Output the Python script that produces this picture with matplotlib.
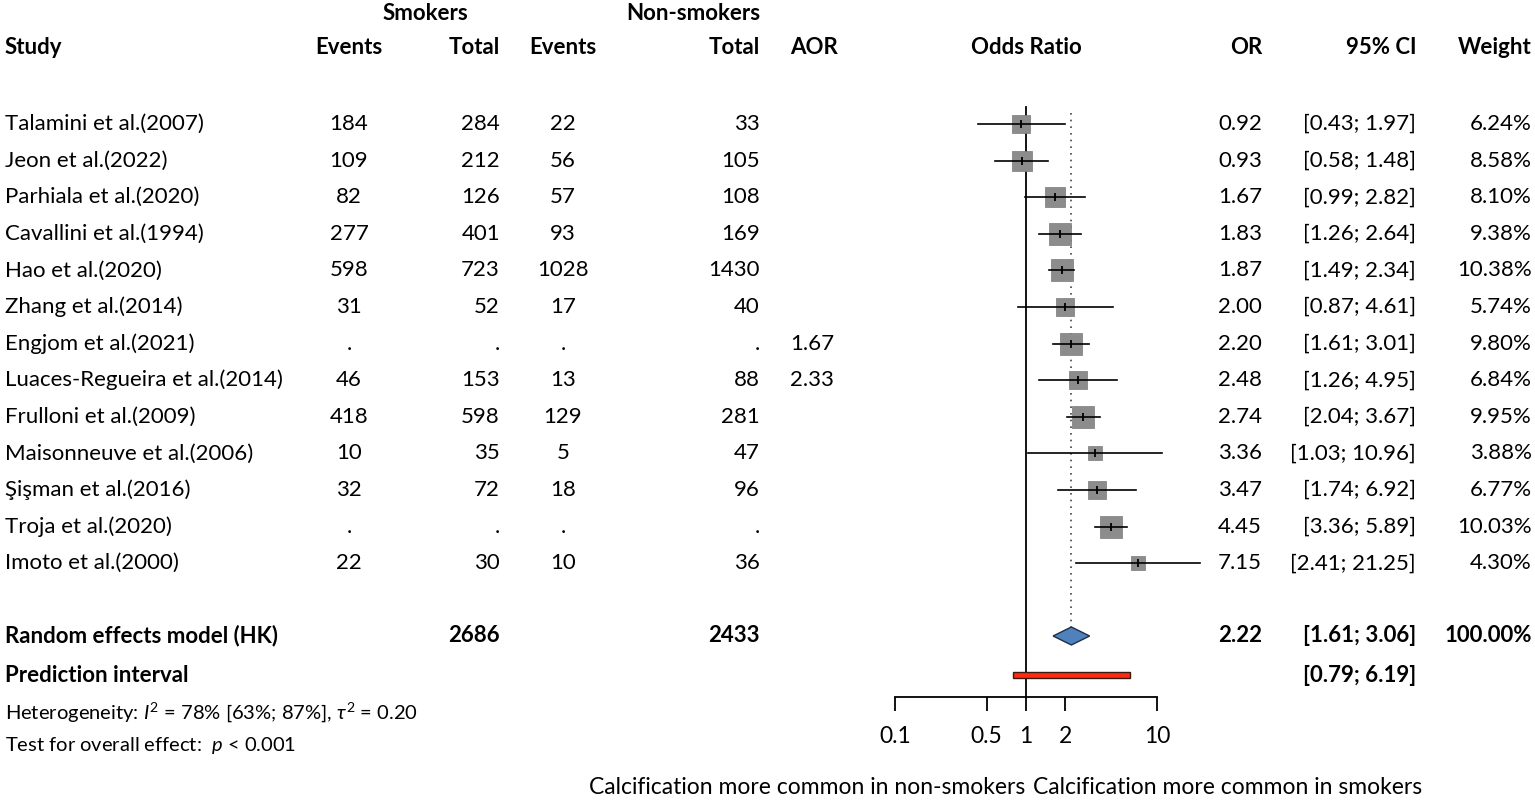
import numpy as np
import matplotlib
matplotlib.use("Agg")
import matplotlib.pyplot as plt
from matplotlib.patches import Polygon, Rectangle

plt.rcParams['font.family'] = ['Lato', 'DejaVu Sans']
plt.rcParams['mathtext.fontset'] = 'custom'
plt.rcParams['mathtext.rm'] = 'Lato'
plt.rcParams['mathtext.it'] = 'Lato:italic'

# data
studies = ["Talamini et al.(2007)", "Jeon et al.(2022)", "Parhiala et al.(2020)",
           "Cavallini et al.(1994)", "Hao et al.(2020)", "Zhang et al.(2014)",
           "Engjom et al.(2021)", "Luaces-Regueira et al.(2014)", "Frulloni et al.(2009)",
           "Maisonneuve et al.(2006)", "Şişman et al.(2016)", "Troja et al.(2020)",
           "Imoto et al.(2000)"]
smk_events = [184, 109, 82, 277, 598, 31, None, 46, 418, 10, 32, None, 22]
smk_total = [284, 212, 126, 401, 723, 52, None, 153, 598, 35, 72, None, 30]
non_events = [22, 56, 57, 93, 1028, 17, None, 13, 129, 5, 18, None, 10]
non_total = [33, 105, 108, 169, 1430, 40, None, 88, 281, 47, 96, None, 36]
aor = [None, None, None, None, None, None, "1.67", "2.33", None, None, None, None, None]
odds = [0.92, 0.93, 1.67, 1.83, 1.87, 2.00, 2.20, 2.48, 2.74, 3.36, 3.47, 4.45, 7.15]
ci_lo = [0.43, 0.58, 0.99, 1.26, 1.49, 0.87, 1.61, 1.26, 2.04, 1.03, 1.74, 3.36, 2.41]
ci_hi = [1.97, 1.48, 2.82, 2.64, 2.34, 4.61, 3.01, 4.95, 3.67, 10.96, 6.92, 5.89, 21.25]
weight = [6.24, 8.58, 8.10, 9.38, 10.38, 5.74, 9.80, 6.84, 9.95, 3.88, 6.77, 10.03, 4.30]

pooled = (2.22, 1.61, 3.06)
pred = (0.79, 6.19)
tot_smk, tot_non = 2686, 2433
ticks = [0.1, 0.5, 1, 2, 10]

W, H = 1535, 801
fig = plt.figure(figsize=(W / 100, H / 100), dpi=100)

# text layer in pixel coordinates
bg = fig.add_axes([0, 0, 1, 1])
bg.set_xlim(0, W)
bg.set_ylim(H, 0)
bg.axis('off')

# forest axes
x0, x1 = 895, 1157
ax = fig.add_axes([x0 / W, 0, (x1 - x0) / W, 1])
ax.set_xscale('log')
ax.set_xlim(0.1, 10)
ax.set_ylim(H, 0)
ax.patch.set_alpha(0)
for s in ['top', 'left', 'right']:
    ax.spines[s].set_visible(False)
ax.spines['bottom'].set_position(('data', 697))
ax.spines['bottom'].set_linewidth(1.3)
ax.set_yticks([])
ax.set_xticks(ticks)
ax.set_xticklabels(["0.1", "0.5", "1", "2", "10"])
ax.minorticks_off()
ax.tick_params(axis='x', direction='out', length=10, width=1.3, pad=11, labelsize=16.5)

fs = 16
row0, step = 124, 36.6
ys = [row0 + step * i for i in range(len(studies))]

# headers
bg.text(425, 14, "Smokers", ha='center', va='center', fontsize=fs, fontweight='bold')
bg.text(760, 14, "Non-smokers", ha='right', va='center', fontsize=fs, fontweight='bold')
hy = 48
bg.text(5, hy, "Study", ha='left', va='center', fontsize=fs, fontweight='bold')
bg.text(349, hy, "Events", ha='center', va='center', fontsize=fs, fontweight='bold')
bg.text(500, hy, "Total", ha='right', va='center', fontsize=fs, fontweight='bold')
bg.text(563, hy, "Events", ha='center', va='center', fontsize=fs, fontweight='bold')
bg.text(760, hy, "Total", ha='right', va='center', fontsize=fs, fontweight='bold')
bg.text(790, hy, "AOR", ha='left', va='center', fontsize=fs, fontweight='bold')
bg.text(1026, hy, "Odds Ratio", ha='center', va='center', fontsize=fs, fontweight='bold')
bg.text(1262, hy, "OR", ha='right', va='center', fontsize=fs, fontweight='bold')
bg.text(1417, hy, "95% CI", ha='right', va='center', fontsize=fs, fontweight='bold')
bg.text(1532, hy, "Weight", ha='right', va='center', fontsize=fs, fontweight='bold')


def cell(v):
    return "." if v is None else str(v)


for i, y in enumerate(ys):
    bg.text(5, y, studies[i], ha='left', va='center', fontsize=fs)
    bg.text(349, y, cell(smk_events[i]), ha='center', va='center', fontsize=fs)
    bg.text(500, y, cell(smk_total[i]), ha='right', va='center', fontsize=fs)
    bg.text(563, y, cell(non_events[i]), ha='center', va='center', fontsize=fs)
    bg.text(760, y, cell(non_total[i]), ha='right', va='center', fontsize=fs)
    if aor[i] is not None:
        bg.text(790, y, aor[i], ha='left', va='center', fontsize=fs)
    bg.text(1262, y, f"{odds[i]:.2f}", ha='right', va='center', fontsize=fs)
    bg.text(1416, y, f"[{ci_lo[i]:.2f}; {ci_hi[i]:.2f}]", ha='right', va='center', fontsize=fs)
    bg.text(1532, y, f"{weight[i]:.2f}%", ha='right', va='center', fontsize=fs)

ry, py = 636, 675
bg.text(5, ry, "Random effects model (HK)", ha='left', va='center', fontsize=fs, fontweight='bold')
bg.text(500, ry, str(tot_smk), ha='right', va='center', fontsize=fs, fontweight='bold')
bg.text(760, ry, str(tot_non), ha='right', va='center', fontsize=fs, fontweight='bold')
bg.text(1262, ry, f"{pooled[0]:.2f}", ha='right', va='center', fontsize=fs, fontweight='bold')
bg.text(1416, ry, f"[{pooled[1]:.2f}; {pooled[2]:.2f}]", ha='right', va='center', fontsize=fs, fontweight='bold')
bg.text(1532, ry, "100.00%", ha='right', va='center', fontsize=fs, fontweight='bold')
bg.text(5, py, "Prediction interval", ha='left', va='center', fontsize=fs, fontweight='bold')
bg.text(1416, py, f"[{pred[0]:.2f}; {pred[1]:.2f}]", ha='right', va='center', fontsize=fs, fontweight='bold')

bg.text(5, 712, r"Heterogeneity: $\mathit{I}^2$ = 78% [63%; 87%], $\tau^2$ = 0.20",
        ha='left', va='center', fontsize=14.5)
bg.text(5, 746, r"Test for overall effect:  $\mathit{p}$ < 0.001", ha='left', va='center', fontsize=14.5)

bg.text(1025, 788, "Calcification more common in non-smokers", ha='right', va='center', fontsize=16.5)
bg.text(1033, 788, "Calcification more common in smokers", ha='left', va='center', fontsize=16.5)

# reference lines
ax.plot([1, 1], [107, 697], color='black', lw=1.3, clip_on=False)
ax.plot([pooled[0], pooled[0]], [113, ry - 9], color='#444444', lw=1.2,
        linestyle=(0, (1, 3)), clip_on=False)

# studies
for i, y in enumerate(ys):
    ax.plot([ci_lo[i], ci_hi[i]], [y, y], color='black', lw=1.2, clip_on=False, zorder=3)
    side = 23 * np.sqrt(weight[i] / 10.38) * 0.72
    ax.scatter([odds[i]], [y], marker='s', s=side ** 2, color='#8c8c8c',
               edgecolor='#7a7a7a', linewidth=0.5, zorder=2, clip_on=False)
    ax.scatter([odds[i]], [y], marker='|', s=40, color='black', linewidth=1.3,
               zorder=4, clip_on=False)

# pooled diamond
ax.add_patch(Polygon([(pooled[1], ry), (pooled[0], ry - 9), (pooled[2], ry), (pooled[0], ry + 9)],
                     closed=True, facecolor='#4f81bd', edgecolor='#1f2f45', lw=1, clip_on=False, zorder=3))
# prediction interval
ax.add_patch(Rectangle((pred[0], py - 3), pred[1] - pred[0], 6,
                       facecolor='#ff2a10', edgecolor='#3a1a10', lw=1, clip_on=False, zorder=3))

fig.savefig("out.png", dpi=100)
